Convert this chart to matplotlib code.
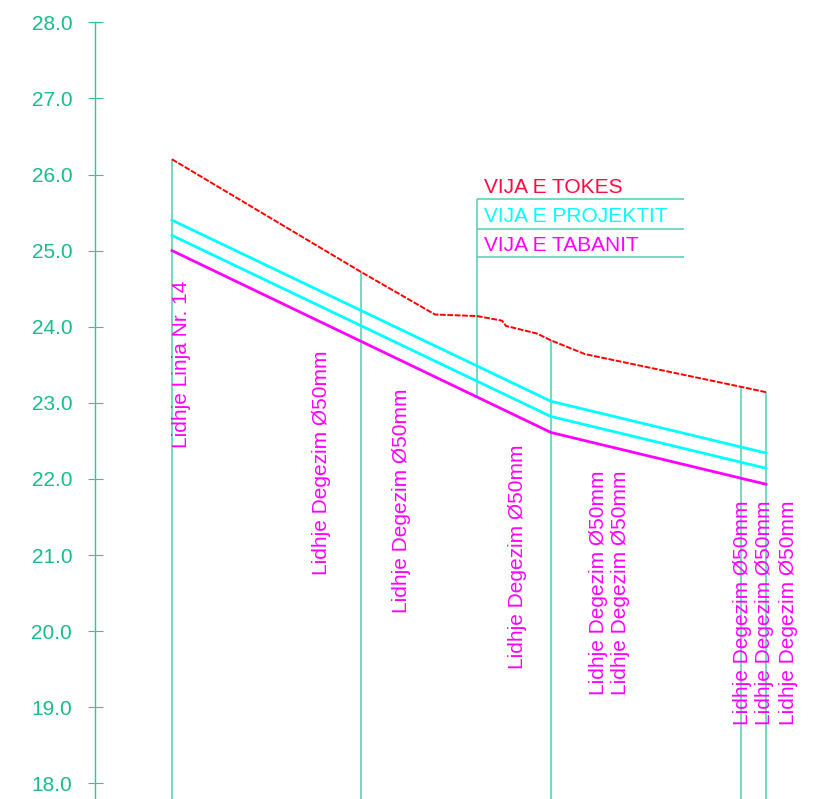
import numpy as np
import matplotlib
matplotlib.use("Agg")
from matplotlib import pyplot as plt

plt.rcParams['font.family'] = ['Liberation Sans', 'DejaVu Sans']

# stations along the profile (arbitrary units)
ground_x = [0, 189, 263, 305, 330, 334, 365, 379, 413, 569, 594]
ground_y = [26.20, 24.72, 24.16, 24.14, 24.08, 24.01, 23.91, 23.82, 23.64, 23.21, 23.14]

design_x = [0, 379, 594]
design_top = [25.40, 23.02, 22.34]
design_low = [25.20, 22.82, 22.14]
invert_y = [25.00, 22.61, 21.93]

node_x = [0, 189, 379, 569, 594]
legend_x = 305

legend_labels = ["VIJA E TOKES", "VIJA E PROJEKTIT", "VIJA E TABANIT"]
legend_lines = [25.68, 25.29, 24.92]
legend_text_y = [25.76, 25.38, 24.99]

node_labels = ["Lidhje Linja Nr. 14"] + ["Lidhje Degezim \u00d850mm"] * 8
label_x = [9.7, 149.7, 229.7, 345.7, 426, 448, 571, 593, 616]
label_y = [22.41, 20.74, 20.24, 19.50, 19.16, 19.16, 18.77, 18.77, 18.77]

yticks = np.arange(18, 29, 1)

green = '#2cc89c'
tick_green = '#19bb8b'
vgreen = '#4ccfad'
red = '#ff0000'
cyan = '#00ffff'
magenta = '#ff00ff'

fig = plt.figure(figsize=(8.27, 7.99), dpi=100)
ax = fig.add_axes([95 / 827, 0, 732 / 827, 1])
ybot, ytop = 17.794, 28.293
ax.set_xlim(-77, 655)
ax.set_ylim(ybot, ytop)

for s in ['top', 'right', 'bottom']:
    ax.spines[s].set_visible(False)
ax.spines['left'].set_color(green)
ax.spines['left'].set_linewidth(1.0)
ax.spines['left'].set_bounds(ybot, 28)
ax.set_xticks([])
ax.set_yticks(yticks)
ax.set_yticklabels([f"{v:.1f}" for v in yticks])
ax.tick_params(axis='y', direction='inout', length=10.8, width=0.8,
               color=green, labelcolor=tick_green, labelsize=15, pad=11)

# vertical node lines from ground down
ax.vlines(node_x, ybot, np.interp(node_x, ground_x, ground_y),
          color=vgreen, lw=1.1, zorder=1)
# legend leader
ax.vlines(legend_x, np.interp(legend_x, design_x, invert_y), legend_lines[0],
          color=vgreen, lw=1.1, zorder=1)
ax.hlines(legend_lines, legend_x, 512, color=vgreen, lw=1.1, zorder=1)

ax.plot(design_x, design_top, color=cyan, lw=2.0, zorder=3)
ax.plot(design_x, design_low, color=cyan, lw=2.0, zorder=3)
ax.plot(design_x, invert_y, color=magenta, lw=2.0, zorder=3)
ax.plot(ground_x, ground_y, color=red, lw=1.4, ls=(0, (3, 0.8)), zorder=4)

legend_colors = ['#ff0a40', cyan, magenta]
for lab, ty, c in zip(legend_labels, legend_text_y, legend_colors):
    ax.text(legend_x + 7, ty, lab, color=c, fontsize=15, va='baseline', ha='left')

for lab, lx, ly in zip(node_labels, label_x, label_y):
    ax.text(lx, ly, lab, color=magenta, fontsize=15, rotation=90,
            ha='center', va='bottom', clip_on=False)

fig.savefig("out.png", dpi=100)
